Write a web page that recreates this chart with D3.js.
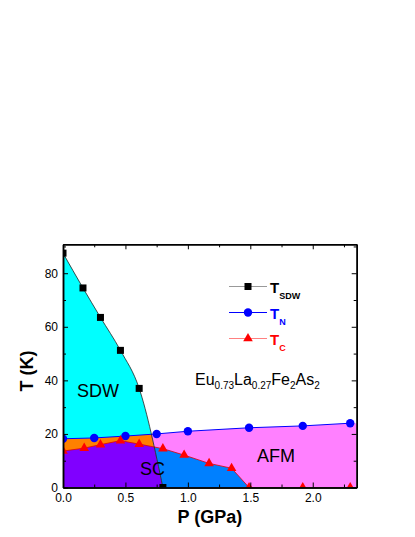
<!DOCTYPE html>
<html>
<head>
<meta charset="utf-8">
<script src="https://cdn.jsdelivr.net/npm/d3@7"></script>
<style>
  body { margin: 0; background: #fff; }
  svg { font-family: "Liberation Sans", Arial, sans-serif; }
</style>
</head>
<body>
<script>
// phase boundaries, P in GPa, T in K
var sdw = [{p:0.0,t:87.5},{p:0.16,t:74.5},{p:0.3,t:63.5},{p:0.46,t:51.2},{p:0.61,t:37},{p:0.8,t:0}];
var tn  = [{p:0.0,t:18.2},{p:0.25,t:18.5},{p:0.5,t:19.2},{p:0.75,t:20},{p:1.0,t:21},
           {p:1.49,t:22.3},{p:1.92,t:23},{p:2.3,t:24}];
var tc  = [{p:0.0,t:13.6},{p:0.17,t:14.7},{p:0.3,t:16},{p:0.46,t:17.5},{p:0.61,t:16.2},
           {p:0.8,t:14.5},{p:0.97,t:12.1},{p:1.17,t:9},{p:1.35,t:7.2},{p:1.49,t:0},
           {p:1.92,t:0},{p:2.3,t:0}];

var xTicks = [0, 0.5, 1.0, 1.5, 2.0];
var xMinor = [0.25, 0.75, 1.25, 1.75, 2.25];
var yTicks = [0, 20, 40, 60, 80];
var yMinor = [10, 30, 50, 70, 90];

var width = 415, height = 537;
var plotL = 63, plotR = 356.7, plotT = 244.3, plotB = 487.5;

var svg = d3.select("body").append("svg")
	.attr("width", width)
	.attr("height", height);

var x = d3.scaleLinear().domain([0, 2.352]).range([plotL, plotR]);
var y = d3.scaleLinear().domain([0, 90.8]).range([plotB, plotT]);

var defs = svg.append("defs");
defs.append("clipPath").attr("id", "plot")
	.append("rect")
	.attr("x", plotL).attr("y", plotT)
	.attr("width", plotR - plotL).attr("height", plotB - plotT);

var area = d3.area()
	.x(function(d) { return x(d.p); })
	.y0(y(0))
	.y1(function(d) { return y(d.t); });
var sdwArea = d3.area()
	.curve(d3.curveMonotoneX)
	.x(function(d) { return x(d.p); })
	.y0(y(0))
	.y1(function(d) { return y(d.t); });

defs.append("clipPath").attr("id", "sdwclip")
	.append("path")
	.attr("d", sdwArea(sdw));

// pink fill is carried on to the right frame
var tnFill = tn.concat([{p: x.domain()[1], t: tn[tn.length-1].t}]);

var fills = svg.append("g").attr("clip-path", "url(#plot)");
fills.append("path").attr("d", area(tnFill)).attr("fill", "#ff80ff");
fills.append("path").attr("d", area(tc)).attr("fill", "#0080ff");
fills.append("path").attr("d", sdwArea(sdw)).attr("fill", "#00ffff");
var inner = fills.append("g").attr("clip-path", "url(#sdwclip)");
inner.append("path").attr("d", area(tn)).attr("fill", "#ff8000");
inner.append("path").attr("d", area(tc)).attr("fill", "#8000ff");

var line = d3.line()
	.x(function(d) { return x(d.p); })
	.y(function(d) { return y(d.t); });
var curve = d3.line()
	.curve(d3.curveMonotoneX)
	.x(function(d) { return x(d.p); })
	.y(function(d) { return y(d.t); });

fills.append("path").attr("d", line(tc))
	.attr("fill", "none").attr("stroke", "#e00000").attr("stroke-width", 0.8);
fills.append("path").attr("d", line(tn))
	.attr("fill", "none").attr("stroke", "#0000ff").attr("stroke-width", 1);
fills.append("path").attr("d", curve(sdw))
	.attr("fill", "none").attr("stroke", "#222").attr("stroke-width", 0.8);

// markers
fills.selectAll(".sq").data(sdw).enter().append("rect")
	.attr("x", function(d) { return x(d.p) - 3.5; })
	.attr("y", function(d) { return y(d.t) - 3.5; })
	.attr("width", 7).attr("height", 7)
	.attr("fill", "#000");
fills.selectAll(".ci").data(tn).enter().append("circle")
	.attr("cx", function(d) { return x(d.p); })
	.attr("cy", function(d) { return y(d.t); })
	.attr("r", 4.2)
	.attr("fill", "#0000ff");
var tri = d3.symbol().type(d3.symbolTriangle).size(40);
fills.selectAll(".tr").data(tc).enter().append("path")
	.attr("transform", function(d) { return "translate(" + x(d.p) + "," + y(d.t) + ")"; })
	.attr("d", tri)
	.attr("fill", "#ff0000");

// axes, ticks pointing inwards
function styleAxis(g) {
	g.selectAll("line").attr("stroke", "#000").attr("stroke-width", 1);
	g.selectAll("path").attr("stroke", "#000").attr("stroke-width", 1.5);
	g.selectAll("text").attr("font-size", 12).attr("fill", "#000")
		.attr("font-family", "Liberation Sans, Arial, sans-serif");
}

svg.append("g").attr("transform", "translate(0," + plotB + ")")
	.call(d3.axisBottom(x).tickValues(xTicks).tickFormat(d3.format(".1f"))
		.tickSize(-5).tickSizeOuter(0).tickPadding(6))
	.call(styleAxis);
svg.append("g").attr("transform", "translate(0," + plotB + ")")
	.call(d3.axisBottom(x).tickValues(xMinor).tickFormat("").tickSize(-3).tickSizeOuter(0))
	.call(styleAxis);
svg.append("g").attr("transform", "translate(0," + plotT + ")")
	.call(d3.axisTop(x).tickValues(xTicks).tickFormat("").tickSize(-5).tickSizeOuter(0))
	.call(styleAxis);
svg.append("g").attr("transform", "translate(0," + plotT + ")")
	.call(d3.axisTop(x).tickValues(xMinor).tickFormat("").tickSize(-3).tickSizeOuter(0))
	.call(styleAxis);

svg.append("g").attr("transform", "translate(" + plotL + ",0)")
	.call(d3.axisLeft(y).tickValues(yTicks).tickSize(-5).tickSizeOuter(0).tickPadding(5))
	.call(styleAxis);
svg.append("g").attr("transform", "translate(" + plotL + ",0)")
	.call(d3.axisLeft(y).tickValues(yMinor).tickFormat("").tickSize(-3).tickSizeOuter(0))
	.call(styleAxis);
svg.append("g").attr("transform", "translate(" + plotR + ",0)")
	.call(d3.axisRight(y).tickValues(yTicks).tickFormat("").tickSize(-5).tickSizeOuter(0))
	.call(styleAxis);
svg.append("g").attr("transform", "translate(" + plotR + ",0)")
	.call(d3.axisRight(y).tickValues(yMinor).tickFormat("").tickSize(-3).tickSizeOuter(0))
	.call(styleAxis);

// axis titles
svg.append("text")
	.attr("x", (plotL + plotR) / 2).attr("y", 523)
	.attr("text-anchor", "middle")
	.attr("font-size", 18).attr("font-weight", "bold")
	.text("P (GPa)");
svg.append("text")
	.attr("transform", "translate(33,371) rotate(-90)")
	.attr("text-anchor", "middle")
	.attr("font-size", 18).attr("font-weight", "bold")
	.text("T (K)");

// phase labels
var labels = [{text:"SDW", x:77, y:397}, {text:"SC", x:140, y:475}, {text:"AFM", x:257, y:462}];
svg.selectAll(".lab").data(labels).enter().append("text")
	.attr("x", function(d) { return d.x; })
	.attr("y", function(d) { return d.y; })
	.attr("font-size", 18)
	.text(function(d) { return d.text; });

// compound formula
var formula = svg.append("text").attr("x", 195).attr("y", 385).attr("font-size", 16);
[["Eu",""],["0.73","s"],["La",""],["0.27","s"],["Fe",""],["2","s"],["As",""],["2","s"]]
	.forEach(function(part, i, arr) {
		var prevSub = i > 0 && arr[i-1][1] == "s";
		var ts = formula.append("tspan").text(part[0]);
		if (part[1] == "s") ts.attr("font-size", 10).attr("dy", 4);
		else if (prevSub) ts.attr("dy", -4);
	});

// legend
var legend = [{name:"T", sub:"SDW", color:"#000", line:"#999", mark:"sq", y:286.5},
              {name:"T", sub:"N", color:"#0000ff", line:"#0000ff", mark:"ci", y:312.5},
              {name:"T", sub:"C", color:"#ff0000", line:"#ff8080", mark:"tr", y:338.5}];
var lg = svg.selectAll(".lg").data(legend).enter().append("g")
	.attr("transform", function(d) { return "translate(0," + d.y + ")"; });
lg.append("line")
	.attr("x1", 229).attr("x2", 267)
	.attr("stroke", function(d) { return d.line; })
	.attr("stroke-width", 1);
lg.each(function(d) {
	var g = d3.select(this);
	if (d.mark == "sq") g.append("rect").attr("x", 244.5).attr("y", -3.5).attr("width", 7).attr("height", 7).attr("fill", "#000");
	if (d.mark == "ci") g.append("circle").attr("cx", 248).attr("r", 4.2).attr("fill", "#0000ff");
	if (d.mark == "tr") g.append("path").attr("transform", "translate(248,0)").attr("d", tri).attr("fill", "#ff0000");
});
var lt = lg.append("text")
	.attr("x", 270).attr("y", 6.5)
	.attr("font-weight", "bold")
	.attr("fill", function(d) { return d.color; });
lt.append("tspan").attr("font-size", 15).text(function(d) { return d.name; });
lt.append("tspan").attr("font-size", 9).attr("dy", 6).text(function(d) { return d.sub; });
</script>
</body>
</html>
